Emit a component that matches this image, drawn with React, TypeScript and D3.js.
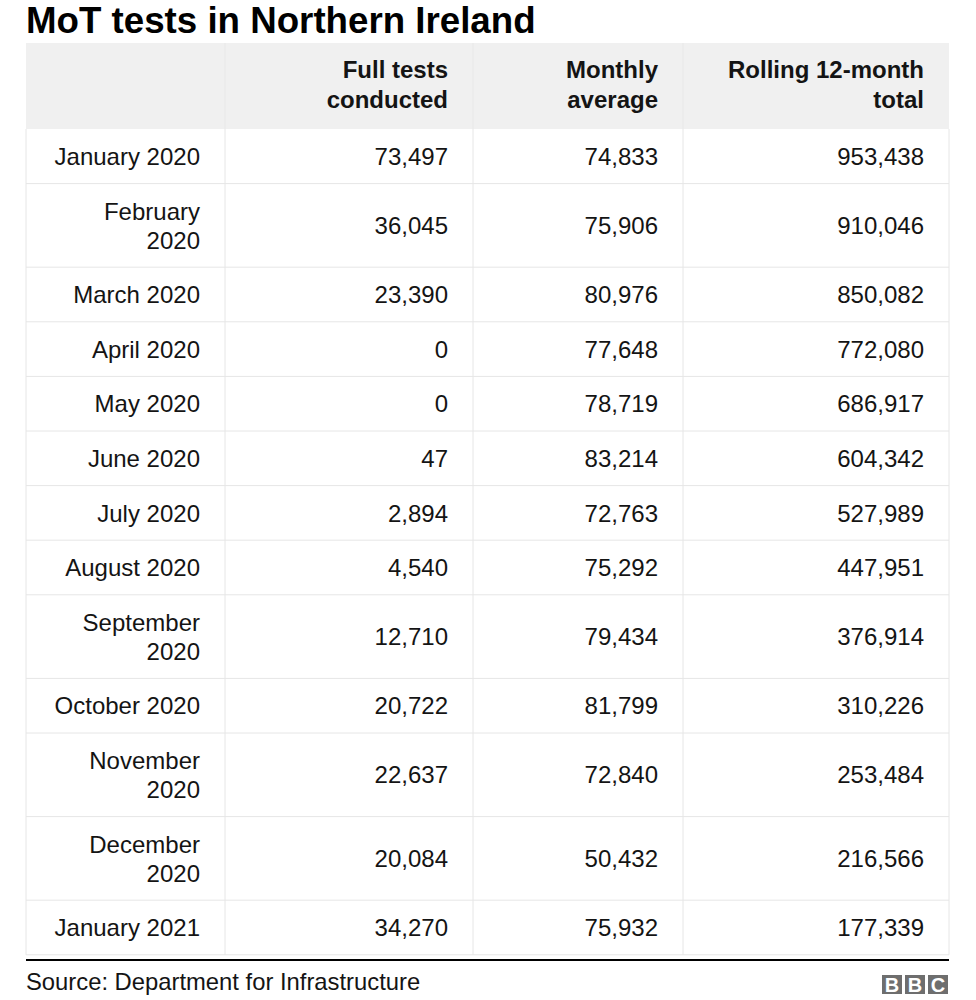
import React from "react";
import * as d3 from "d3";

const title = "MoT tests in Northern Ireland";
const source = "Source: Department for Infrastructure";
const headers = [["", ""], ["Full tests", "conducted"], ["Monthly", "average"], ["Rolling 12-month", "total"]];

const months = [
  "January 2020", "February 2020", "March 2020", "April 2020", "May 2020", "June 2020",
  "July 2020", "August 2020", "September 2020", "October 2020", "November 2020",
  "December 2020", "January 2021",
];
const fullTests = [73497, 36045, 23390, 0, 0, 47, 2894, 4540, 12710, 20722, 22637, 20084, 34270];
const monthlyAverage = [74833, 75906, 80976, 77648, 78719, 83214, 72763, 75292, 79434, 81799, 72840, 50432, 75932];
const rollingTotal = [953438, 910046, 850082, 772080, 686917, 604342, 527989, 447951, 376914, 310226, 253484, 216566, 177339];

const W = 976;
const H = 1000;
const FONT = "'Liberation Sans', Arial, Helvetica, sans-serif";
const colEdges = [26, 225, 473, 683, 949];
const pad = 25;
const headerTop = 43;
const headerH = 86;
const singleH = 54.6;
const lineStep = 29;
const fs = 24;
const maxLabelW = 150;

let ctx: CanvasRenderingContext2D | null = null;
function measure(t: string) {
  if (!ctx) ctx = document.createElement("canvas").getContext("2d");
  if (!ctx) return t.length * 12;
  ctx.font = `${fs}px ${FONT}`;
  return ctx.measureText(t).width;
}
function wrap(t: string): string[] {
  if (measure(t) <= maxLabelW) return [t];
  const i = t.lastIndexOf(" ");
  return [t.slice(0, i), t.slice(i + 1)];
}

export default function App() {
  const fmt = d3.format(",");
  const labels = months.map(wrap);
  const heights = labels.map((l) => singleH + (l.length - 1) * lineStep);
  const tops: number[] = [];
  let acc = headerTop + headerH;
  heights.forEach((h) => { tops.push(acc); acc += h; });
  const tableBottom = acc;

  const rowText = (lines: string[], x: number, cy: number, bold = false, key?: string, step = lineStep) => {
    const n = lines.length;
    const y0 = cy - ((n - 1) * step) / 2 + fs * 0.36;
    return (
      <text key={key} x={x} textAnchor="end" fontSize={fs} fontWeight={bold ? "bold" : "normal"} fill="#141414" fontFamily={FONT}>
        {lines.map((l, i) => (
          <tspan key={i} x={x} y={y0 + i * step}>{l}</tspan>
        ))}
      </text>
    );
  };

  const rows = months.map((m, i) => [labels[i], [fmt(fullTests[i])], [fmt(monthlyAverage[i])], [fmt(rollingTotal[i])]]);

  return (
    <svg width={W} height={H} style={{ position: "absolute", left: 0, top: 0, background: "#fff" }}>
      <text x={26} y={33} fontSize={36.7} fontWeight="bold" fontFamily={FONT} fill="#000">{title}</text>
      <rect x={colEdges[0]} y={headerTop} width={colEdges[4] - colEdges[0]} height={headerH} fill="#f0f0f0" />
      {colEdges.slice(1, 4).map((x, i) => (
        <line key={"hv" + i} x1={x} x2={x} y1={headerTop} y2={headerTop + headerH} stroke="#e8e8e8" strokeWidth={1} />
      ))}
      {headers.map((h, j) => j > 0 && rowText(h, colEdges[j + 1] - pad, headerTop + headerH / 2 - 1.5, true, "h" + j, 30))}
      {tops.map((t, i) => (
        <line key={"hl" + i} x1={colEdges[0]} x2={colEdges[4]} y1={t + heights[i]} y2={t + heights[i]} stroke="#e6e6e6" strokeWidth={1} />
      ))}
      {colEdges.map((x, i) => (
        <line key={"vl" + i} x1={x} x2={x} y1={headerTop + headerH} y2={tableBottom} stroke="#e6e6e6" strokeWidth={1} />
      ))}
      {rows.map((r, i) => (
        <g key={"r" + i}>
          {r.map((cell, j) => rowText(cell, colEdges[j + 1] - pad, tops[i] + heights[i] / 2, false, "c" + j))}
        </g>
      ))}
      <line x1={colEdges[0]} x2={colEdges[4]} y1={960} y2={960} stroke="#000" strokeWidth={2} />
      <text x={26} y={990} fontSize={23.8} fontFamily={FONT} fill="#141414">{source}</text>
      <g>
        {["B", "B", "C"].map((c, i) => (
          <g key={"bbc" + i}>
            <rect x={882 + i * 23} y={975} width={20} height={19} fill="#6e6e6e" />
            <text x={892 + i * 23} y={992} textAnchor="middle" fontSize={20} fontWeight="bold" fontFamily={FONT} fill="#fff">{c}</text>
          </g>
        ))}
      </g>
    </svg>
  );
}
